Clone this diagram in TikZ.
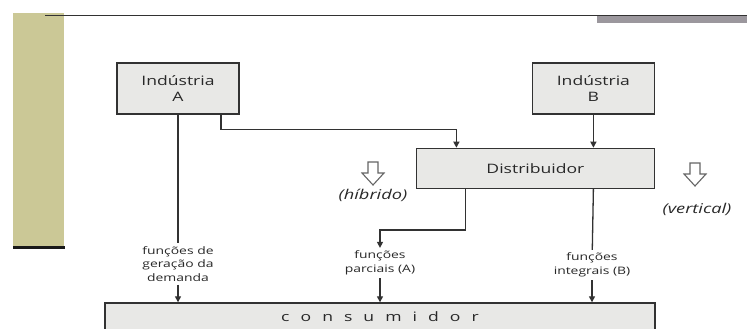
\documentclass[tikz,border=0pt]{standalone}
\usepackage{fontspec}
\setmainfont{Open Sans}[FakeStretch=1.35]
\usetikzlibrary{positioning, arrows.meta, calc}
\definecolor{barolive}{RGB}{203,200,150}
\definecolor{bargray}{RGB}{155,151,157}
\definecolor{boxfill}{RGB}{232,232,230}
\definecolor{lineclr}{RGB}{50,50,50}
\definecolor{textclr}{RGB}{40,40,40}
\tikzset{
  unit/.style={rectangle, draw=lineclr, line width=1.4pt, fill=boxfill, text=textclr, minimum width=122pt, minimum height=51pt, align=center, font=\fontsize{13}{16}\selectfont},
  fn/.style={align=center, inner sep=3pt, text=textclr, font=\fontsize{10.3}{13.5}\selectfont},
  kind/.style={inner sep=1pt, text=textclr, font=\fontsize{13.5}{15}\selectfont\itshape},
  hollow/.style={draw=lineclr!75, line width=1.1pt, fill=white},
  conn/.style={line width=1.3pt, draw=lineclr},
  arrow/.style={conn, -{Triangle[length=6pt,width=6pt]}}
}
\begin{document}
\begin{tikzpicture}[x=1pt, y=-1pt]
        \useasboundingbox (0,0) rectangle (747,329);
        \fill[white] (0,0) rectangle (747,329);

        % slide frame
        \fill[barolive] (13,13) rectangle (64,247);
        \draw[line width=3pt, black!90] (13,247) -- (65,247);
        \fill[bargray] (597,15) rectangle (747,23);
        \draw[line width=1.2pt, lineclr] (45,15.5) -- (747,15.5);

        % caixas
        \node (indA) [unit] at (178,88.5) {Indústria\\A};
        \node (indB) [unit, right=292pt of indA] {Indústria\\B};
        \node (dist) [unit, minimum width=238pt, minimum height=40pt, below=33pt of indB.south east, anchor=north east] {Distribuidor};
        \node (cons) [unit, minimum width=550pt, minimum height=28pt, font=\fontsize{13}{15}\selectfont\addfontfeatures{LetterSpace=85}] at (380,317) {consumidor};

        % funções
        \node (gen) [fn] at (178,264) {funções de\\geração da\\demanda};
        \node (par) [fn] at (380,263) {funções\\parciais (A)};
        \node (int) [fn] at (592,265) {funções\\integrais (B)};

        % canais
        \node (hybtxt) [kind] at (373,195) {(híbrido)};
        \node (vertxt) [kind] at (697,209) {(vertical)};
        \coordinate (hyb) at (373,162);
        \coordinate (vert) at (695,163);
        \draw[hollow] (hyb) ++(-5,0) -- ++(0,11) -- ++(-6,0) -- ++(11,12) -- ++(11,-12) -- ++(-6,0) -- ++(0,-11) -- cycle;
        \draw[hollow] (vert) ++(-5,0) -- ++(0,11) -- ++(-6,0) -- ++(11,12) -- ++(11,-12) -- ++(-6,0) -- ++(0,-11) -- cycle;

        % Flechas
        \coordinate (brA) at ([xshift=43pt]indA.south);
        \coordinate (inD) at ([xshift=-79pt]dist.north);
        \coordinate (outD) at ([xshift=-70pt]dist.south);
        \draw [conn] (indA) -- (gen);
        \draw [arrow] (brA) -- ++(0,15) -| (inD);
        \draw [arrow] (indB) -- (indB |- dist.north);
        \draw [arrow] (outD) -- ++(0,41) -| (par);
        \draw [conn] (indB |- dist.south) -- (int);
        \draw [arrow] (gen) -- (gen |- cons.north);
        \draw [arrow] (par) -- (par |- cons.north);
        \draw [arrow] (int) -- (int |- cons.north);

    \end{tikzpicture}
\end{document}
